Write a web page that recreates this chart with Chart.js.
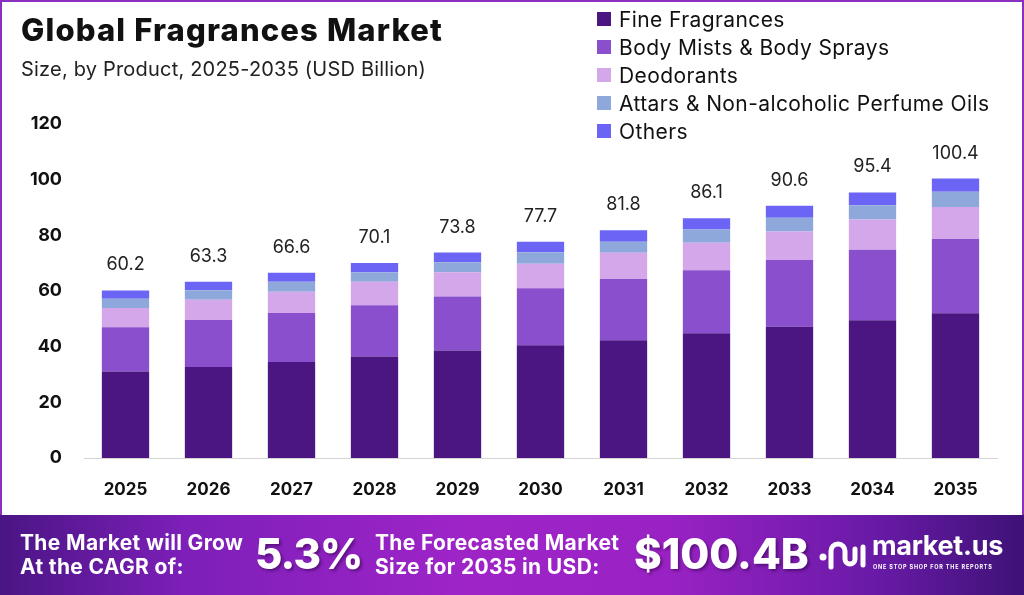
<!DOCTYPE html>
<html>
<head>
<meta charset="utf-8">
<script src="https://cdn.jsdelivr.net/npm/chart.js@4.4.0/dist/chart.umd.min.js"></script>
<style>
  html, body { margin: 0; padding: 0; background: #fff; }
  body { width: 1024px; height: 595px; position: relative; overflow: hidden; font-family: Inter, "Open Sans", sans-serif; }
  #frame { position: absolute; left: 0; top: 0; width: 1024px; height: 515px; box-sizing: border-box; border: 2px solid #8a2fc0; border-bottom: none; }
  #chart-wrap { position: absolute; left: 0; top: 0; width: 1024px; height: 515px; }
  #title { position: absolute; left: 21px; top: 11px; font-size: 31px; font-weight: 800; color: #111; letter-spacing: 1.15px; }
  #subtitle { position: absolute; left: 21px; top: 57px; font-size: 20px; color: #222; letter-spacing: 0.2px; }
  #legend { position: absolute; left: 597px; top: 5px; }
  .lg { height: 28px; display: flex; align-items: center; font-size: 21px; color: #111; letter-spacing: 0.4px; }
  .lg span.sw { width: 14px; height: 14px; margin-right: 8px; display: inline-block; }
  #banner { position: absolute; left: 0; top: 515px; width: 1024px; height: 80px;
    background: linear-gradient(90deg, #4a1585 0%, #7d1fb8 18%, #9e24c8 45%, #9a22c4 65%, #6a1aa8 85%, #3e1276 100%); color: #fff; }
  .bt { position: absolute; font-weight: 700; font-size: 21px; line-height: 24px; letter-spacing: 0.35px; }
  .big { position: absolute; font-weight: 800; font-size: 42px; line-height: 48px; text-shadow: 2px 2px 3px rgba(40,0,60,0.5); }
</style>
</head>
<body>
<div id="chart-wrap"><canvas id="chart" width="1024" height="515"></canvas></div>
<div id="frame"></div>
<div id="title">Global Fragrances Market</div>
<div id="subtitle">Size, by Product, 2025-2035 (USD Billion)</div>
<div id="legend"></div>
<div id="banner">
  <div class="bt" style="left:20px; top:16px;">The Market will Grow<br>At the CAGR of:</div>
  <div class="big" style="left:255px; top:15px; letter-spacing:-1px;">5.3%</div>
  <div class="bt" style="left:375px; top:16px;">The Forecasted Market<br>Size for 2035 in USD:</div>
  <div class="big" style="left:634px; top:15px;">$100.4B</div>
  <svg style="position:absolute; left:818px; top:22px;" width="52" height="36" viewBox="0 0 52 36">
    <circle cx="5" cy="20" r="3.5" fill="#fff"/>
    <path d="M13 30 V14 a7 7 0 0 1 14 0 V22 a5 5 0 0 0 10 0 V12" stroke="#fff" stroke-width="5" fill="none" stroke-linecap="round"/>
    <path d="M45 10 V28" stroke="#fff" stroke-width="5" fill="none" stroke-linecap="round"/>
  </svg>
  <div style="position:absolute; left:872px; top:14px; font-size:27px; font-weight:700; letter-spacing:-0.3px;">market.us</div>
  <div style="position:absolute; left:873px; top:49px; font-size:5.5px; font-weight:700; letter-spacing:0.8px;">ONE STOP SHOP FOR THE REPORTS</div>
</div>
<script>
const years = ['2025', '2026', '2027', '2028', '2029', '2030', '2031', '2032', '2033', '2034', '2035'];
const fineFragrances = [31.1, 32.7, 34.5, 36.5, 38.6, 40.5, 42.3, 44.8, 47.2, 49.5, 52.0];
const bodyMists = [15.9, 16.9, 17.6, 18.4, 19.4, 20.5, 22.0, 22.7, 23.9, 25.3, 26.7];
const deodorants = [6.9, 7.3, 7.6, 8.4, 8.7, 8.8, 9.4, 9.8, 10.3, 10.9, 11.5];
const attars = [3.3, 3.4, 3.6, 3.4, 3.6, 4.1, 4.0, 4.8, 4.9, 5.1, 5.5];
const others = [3.0, 3.0, 3.3, 3.4, 3.5, 3.8, 4.1, 4.0, 4.3, 4.6, 4.7];
const totals = [60.2, 63.3, 66.6, 70.1, 73.8, 77.7, 81.8, 86.1, 90.6, 95.4, 100.4];
const yTicks = [0, 20, 40, 60, 80, 100, 120];

const series = [
    { label: 'Fine Fragrances', data: fineFragrances, color: '#4b1682' },
    { label: 'Body Mists & Body Sprays', data: bodyMists, color: '#8a4fcc' },
    { label: 'Deodorants', data: deodorants, color: '#d4a6ea' },
    { label: 'Attars & Non-alcoholic Perfume Oils', data: attars, color: '#8fa8dc' },
    { label: 'Others', data: others, color: '#6c64f4' }
];

// HTML legend in the top right
const legend = document.getElementById('legend');
series.forEach(s => {
    const row = document.createElement('div');
    row.className = 'lg';
    row.innerHTML = '<span class="sw" style="background:' + s.color + '"></span>' + s.label;
    legend.appendChild(row);
});

// write the total above each stack
const totalLabels = {
    id: 'totalLabels',
    afterDatasetsDraw(chart) {
        const ctx = chart.ctx;
        const meta = chart.getDatasetMeta(chart.data.datasets.length - 1);
        ctx.save();
        ctx.font = '18px Inter, "Open Sans", sans-serif';
        ctx.fillStyle = '#222';
        ctx.textAlign = 'center';
        ctx.textBaseline = 'alphabetic';
        meta.data.forEach((bar, i) => {
            ctx.fillText(totals[i].toFixed(1), bar.x, bar.y - 20);
        });
        ctx.restore();
    }
};

const ctx = document.getElementById('chart').getContext('2d');
new Chart(ctx, {
    type: 'bar',
    data: {
        labels: years,
        datasets: series.map(s => ({
            label: s.label,
            data: s.data,
            backgroundColor: s.color,
            borderWidth: 0,
            barPercentage: 0.57,
            categoryPercentage: 1
        }))
    },
    options: {
        responsive: false,
        animation: false,
        layout: { padding: { left: 20, right: 27, top: 124, bottom: 0 } },
        plugins: {
            legend: { display: false },
            tooltip: { enabled: false }
        },
        scales: {
            x: {
                stacked: true,
                grid: { display: false, drawTicks: false },
                border: { display: true, color: '#d4d4d4', width: 1 },
                ticks: {
                    padding: 22,
                    color: '#111',
                    font: { family: 'Inter, "Open Sans", sans-serif', size: 17, weight: 'bold' }
                },
                afterFit(scale) { scale.height = 57; }
            },
            y: {
                stacked: true,
                min: 0,
                max: 120,
                grid: { display: false, drawTicks: false },
                border: { display: false },
                afterBuildTicks(scale) { scale.ticks = yTicks.map(v => ({ value: v })); },
                ticks: {
                    padding: 22,
                    color: '#111',
                    font: { family: 'Inter, "Open Sans", sans-serif', size: 18, weight: 'bold' }
                },
                afterFit(scale) { scale.width = 64; }
            }
        }
    },
    plugins: [totalLabels]
});
</script>
</body>
</html>
